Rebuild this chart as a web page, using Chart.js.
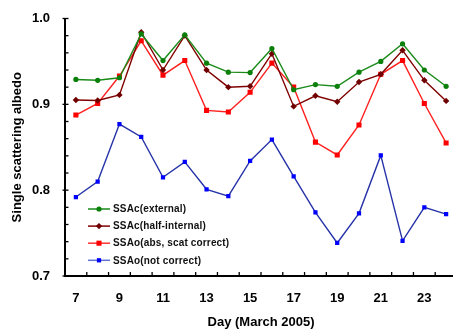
<!DOCTYPE html>
<html>
<head>
<meta charset="utf-8">
<script src="https://cdn.jsdelivr.net/npm/chart.js@4/dist/chart.umd.min.js"></script>
<style>
  html, body { margin: 0; padding: 0; background: #fff; overflow: hidden; }
  #wrap { width: 453px; height: 331px; overflow: hidden; }
  canvas { display: block; }
</style>
</head>
<body>
<div id="wrap"><canvas id="c" width="461" height="331"></canvas></div>
<script>
const days = [7, 8, 9, 10, 11, 12, 13, 14, 15, 16, 17, 18, 19, 20, 21, 22, 23, 24];
const ssacExternal = [0.929, 0.928, 0.931, 0.982, 0.951, 0.981, 0.948, 0.9375, 0.937, 0.965, 0.917, 0.923, 0.921, 0.9375, 0.950, 0.9705, 0.940, 0.921];
const ssacHalfInternal = [0.905, 0.9045, 0.911, 0.984, 0.940, 0.980, 0.940, 0.920, 0.921, 0.959, 0.8976, 0.910, 0.903, 0.926, 0.935, 0.963, 0.928, 0.904];
const ssaoCorrected = [0.8875, 0.901, 0.933, 0.974, 0.934, 0.951, 0.893, 0.891, 0.914, 0.948, 0.920, 0.856, 0.841, 0.876, 0.935, 0.951, 0.901, 0.855];
const ssaoNotCorrected = [0.792, 0.810, 0.877, 0.862, 0.815, 0.833, 0.801, 0.793, 0.834, 0.859, 0.816, 0.774, 0.7385, 0.773, 0.8405, 0.741, 0.780, 0.772];
const seriesNames = ['SSAc(external)', 'SSAc(half-internal)', 'SSAo(abs, scat correct)', 'SSAo(not correct)'];
const yTickValues = [0.7, 0.8, 0.9, 1.0];

const FONT = "'Liberation Sans', Arial, Helvetica, sans-serif";
const legendLineColors = ['#1a8a1a', '#800000', '#ff3030', '#6272d0'];

const axesPlugin = {
  id: 'axesPlugin',
  afterDraw(chart) {
    const ctx = chart.ctx;
    const ca = chart.chartArea;
    const xs = chart.scales.x, ys = chart.scales.y;
    ctx.save();
    ctx.strokeStyle = '#000';
    ctx.lineWidth = 2;
    ctx.beginPath();
    ctx.moveTo(ca.left, ca.top - 0.5);
    ctx.lineTo(ca.left, ca.bottom + 1);
    ctx.stroke();
    ctx.beginPath();
    ctx.moveTo(ca.left - 1, ca.bottom);
    ctx.lineTo(ca.right + 2, ca.bottom);
    ctx.stroke();
    ctx.lineWidth = 1.3;
    for (let k = 0; k <= 15; k++) {
      const v = 0.7 + k * 0.02;
      const p = ys.getPixelForValue(v);
      const major = Math.abs((v * 10) - Math.round(v * 10)) < 1e-6;
      ctx.beginPath();
      ctx.moveTo(ca.left - (major ? 2.5 : 0), p);
      ctx.lineTo(ca.left + 3.5, p);
      ctx.stroke();
    }
    const step = xs.getPixelForValue(1) - xs.getPixelForValue(0);
    for (let i = 1; i <= days.length; i++) {
      const p = xs.getPixelForValue(i) - step / 2;
      ctx.beginPath();
      ctx.moveTo(p, ca.bottom);
      ctx.lineTo(p, ca.bottom - 4);
      ctx.stroke();
    }
    ctx.restore();
  }
};

const legendPlugin = {
  id: 'legendPlugin',
  afterDatasetsDraw(chart) {
    const ctx = chart.ctx;
    ctx.save();
    const x0 = 88, x1 = 110, tx = 113;
    const y0 = 209, dy = 17.1;
    chart.data.datasets.forEach((ds, i) => {
      const y = y0 + i * dy;
      ctx.strokeStyle = legendLineColors[i];
      ctx.lineWidth = 1.5;
      ctx.beginPath();
      ctx.moveTo(x0, y);
      ctx.lineTo(x1, y);
      ctx.stroke();
      ctx.fillStyle = ds.pointBackgroundColor;
      ctx.strokeStyle = ds.pointBackgroundColor;
      Chart.helpers.drawPoint(ctx, {
        pointStyle: ds.pointStyle,
        radius: ds.pointRadius,
        borderWidth: 0
      }, (x0 + x1) / 2, y);
      ctx.fillStyle = '#111';
      ctx.font = 'bold 10px ' + FONT;
      ctx.textBaseline = 'middle';
      ctx.textAlign = 'left';
      if ('letterSpacing' in ctx) ctx.letterSpacing = '0.15px';
      ctx.fillText(ds.label, tx, y + 0.5);
    });
    ctx.restore();
  }
};

function makeDataset(label, data, color, pointColor, style, radius) {
  return {
    label: label,
    data: data,
    borderColor: color,
    backgroundColor: pointColor,
    pointBackgroundColor: pointColor,
    pointBorderColor: pointColor,
    pointBorderWidth: 0,
    pointStyle: style,
    pointRadius: radius,
    borderWidth: 1.4,
    tension: 0,
    fill: false
  };
}

new Chart(document.getElementById('c'), {
  type: 'line',
  data: {
    labels: days,
    datasets: [
      makeDataset(seriesNames[0], ssacExternal, '#1a8a1a', '#0a800a', 'circle', 2.6),
      makeDataset(seriesNames[1], ssacHalfInternal, '#800000', '#700000', 'rectRot', 3.2),
      makeDataset(seriesNames[2], ssaoCorrected, '#ff2020', '#ff0000', 'rect', 3.6),
      makeDataset(seriesNames[3], ssaoNotCorrected, '#2633a8', '#0000ff', 'rect', 3.0)
    ]
  },
  options: {
    responsive: false,
    animation: false,
    devicePixelRatio: 1,
    layout: { padding: { top: 18.5, right: 0, left: 0, bottom: 0 } },
    plugins: { legend: { display: false }, tooltip: { enabled: false } },
    scales: {
      x: {
        type: 'category',
        offset: true,
        grid: { display: false, drawTicks: false, tickLength: 0, offset: true },
        border: { display: false },
        ticks: {
          autoSkip: false,
          maxRotation: 0,
          padding: 15,
          color: '#000',
          font: { family: FONT, size: 13, weight: 'bold' },
          callback: function (value, index) {
            const d = days[index];
            return d % 2 === 1 ? String(d) : '';
          }
        },
        title: {
          display: true,
          text: 'Day (March 2005)',
          color: '#000',
          font: { family: FONT, size: 13, weight: 'bold' },
          padding: { top: 0, bottom: 1 }
        },
        afterFit: function (scale) {
          scale.height = 55;
          scale.paddingLeft = 0;
          scale.paddingRight = 0;
        }
      },
      y: {
        min: 0.7,
        max: 1.0,
        grid: { display: false, drawTicks: false, tickLength: 0 },
        border: { display: false },
        afterBuildTicks: function (scale) {
          scale.ticks = yTickValues.map(v => ({ value: v }));
        },
        ticks: {
          padding: 15,
          color: '#000',
          font: { family: FONT, size: 13, weight: 'bold' },
          callback: function (value) { return Number(value).toFixed(1); }
        },
        title: {
          display: true,
          text: 'Single scattering albedo',
          color: '#000',
          font: { family: FONT, size: 13, weight: 'bold' },
          padding: { top: 10, bottom: 0 }
        },
        afterFit: function (scale) {
          scale.width = 65;
          scale.paddingTop = 0;
          scale.paddingBottom = 0;
        }
      }
    }
  },
  plugins: [axesPlugin, legendPlugin]
});
</script>
</body>
</html>
